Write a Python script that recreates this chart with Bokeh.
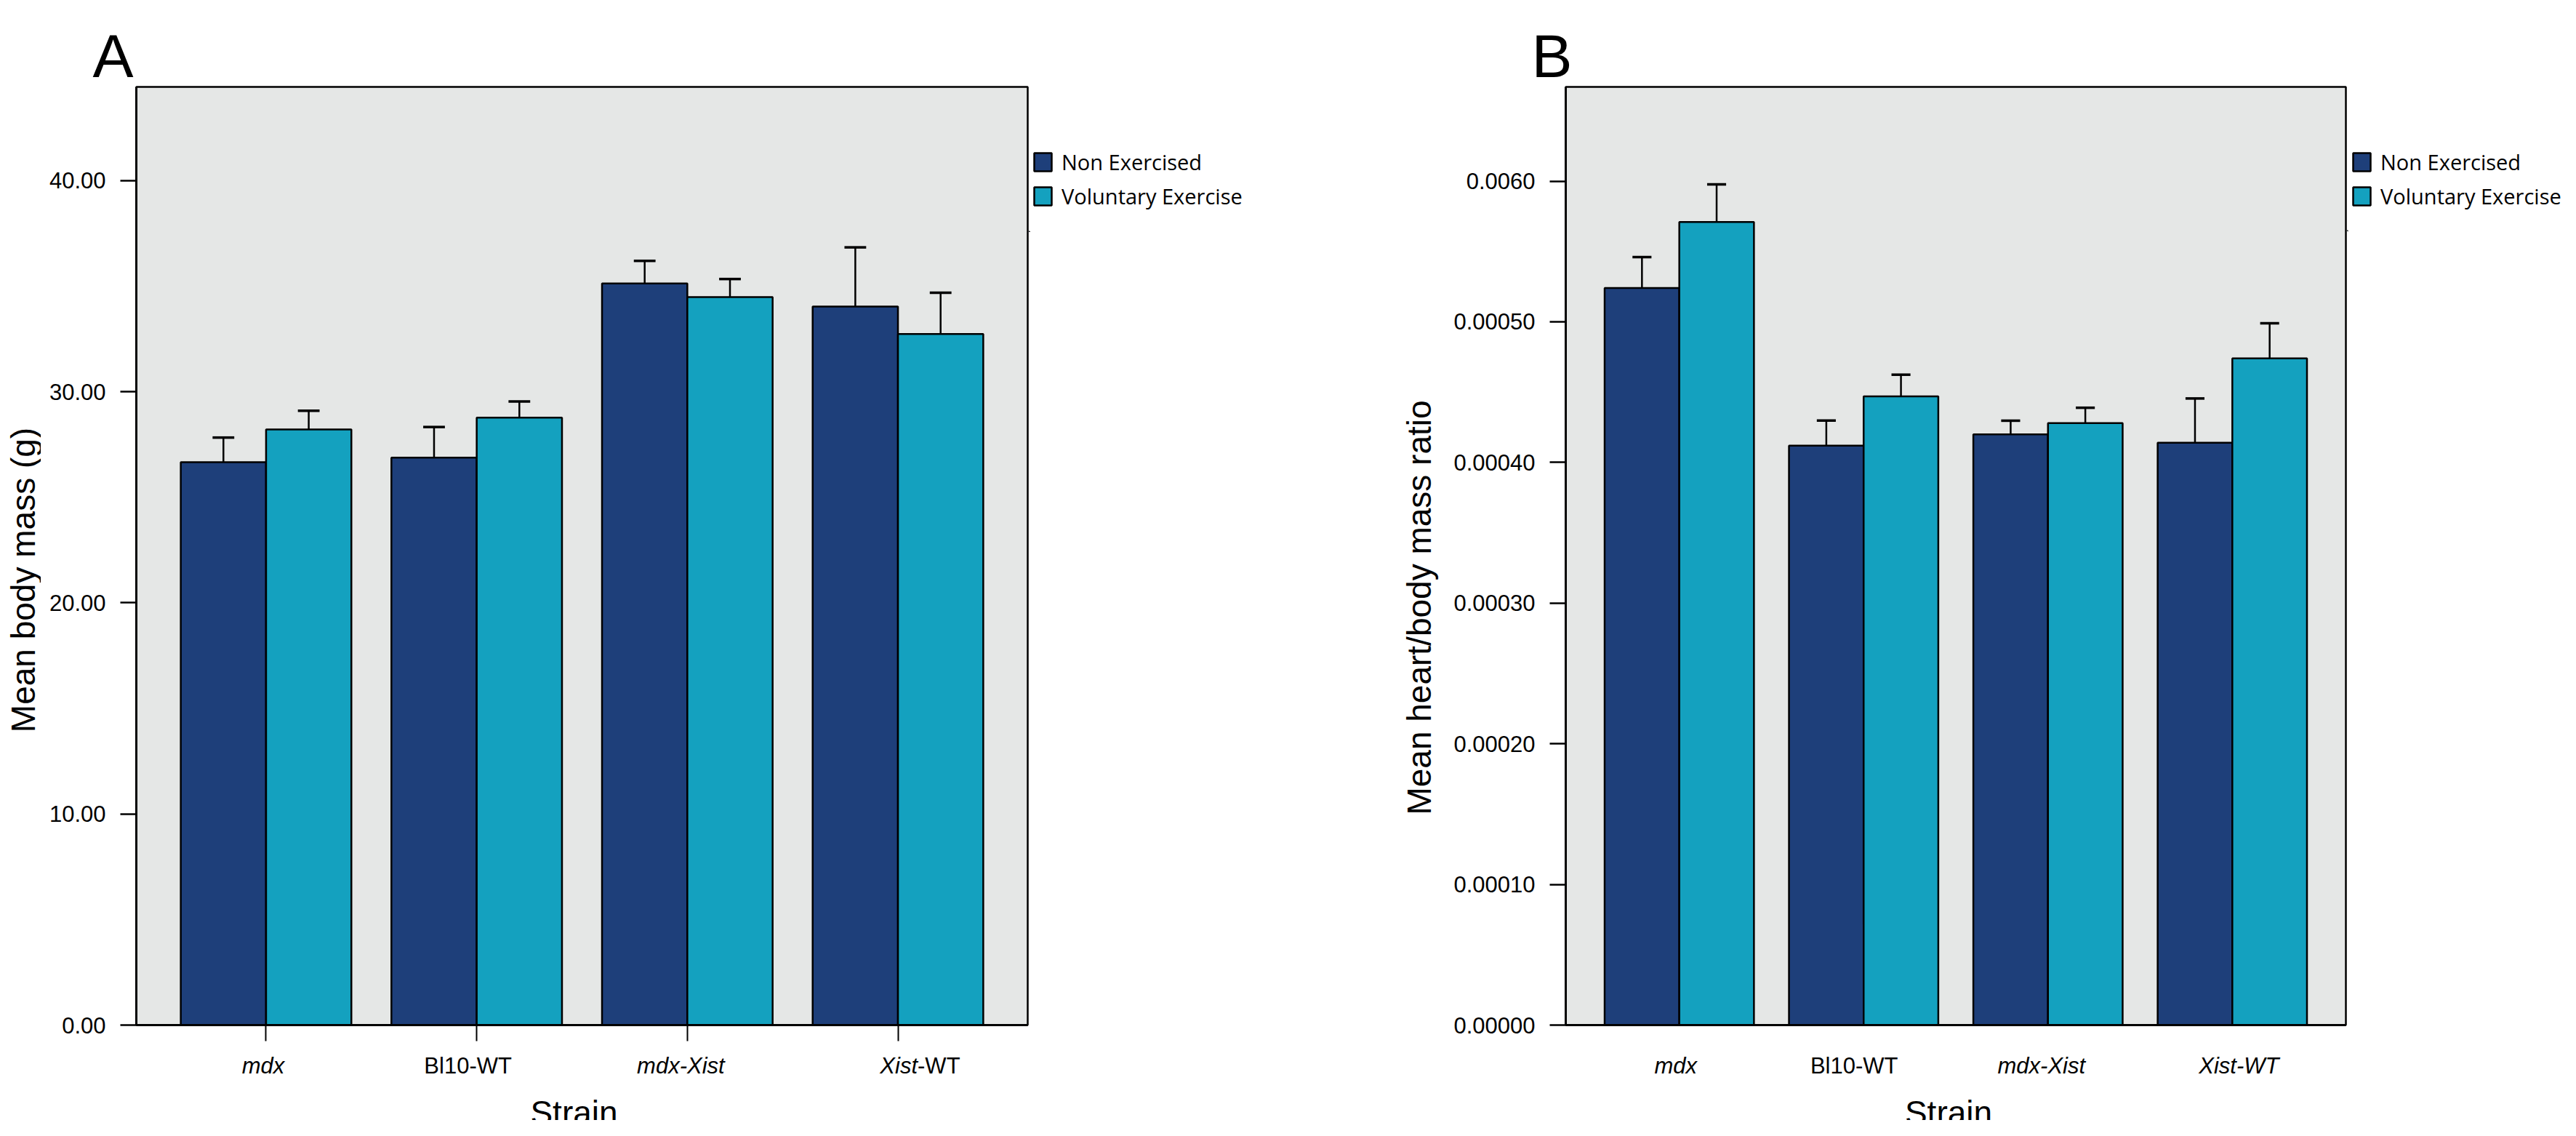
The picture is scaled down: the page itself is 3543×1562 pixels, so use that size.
import numpy as np
from bokeh.plotting import figure
from bokeh.models import (Range1d, FixedTicker, NumeralTickFormatter, CustomJSTickFormatter,
                          Legend, LegendItem, ColumnDataSource, CustomLabelingPolicy, Spacer)
from bokeh.layouts import row, column
from bokeh.embed import file_html
from bokeh.resources import INLINE
from bokeh.core.properties import value

# ---------------- data ----------------
strains = ["mdx", "Bl10-WT", "mdx-Xist", "Xist-WT"]
groups = ["Non Exercised", "Voluntary Exercise"]

mass_non = [26.66, 26.88, 35.13, 34.04]
mass_non_se = [1.17, 1.45, 1.07, 2.80]
mass_vol = [28.21, 28.77, 34.48, 32.74]
mass_vol_se = [0.89, 0.77, 0.86, 1.95]

ratio_non = [0.000524, 0.000412, 0.000420, 0.000414]
ratio_non_se = [0.0000220, 0.0000178, 0.0000097, 0.0000315]
ratio_vol = [0.000571, 0.000447, 0.000428, 0.000474]
ratio_vol_se = [0.0000267, 0.0000154, 0.0000109, 0.0000250]

mass_ticks = [0, 10, 20, 30, 40]
ratio_ticks = [0, 0.0001, 0.0002, 0.0003, 0.0004, 0.0005, 0.0006]
ratio_tick_labels = ["0.00000", "0.00010", "0.00020", "0.00030", "0.00040", "0.00050", "0.0060"]

panel_letters = ["A", "B"]

# tick-label typography (text pieces and styles) for each panel
A_tick_parts = [[("mdx", "italic")], [("Bl10-WT", "normal")], [("mdx-Xist", "italic")],
                [("Xist", "italic"), ("-WT", "normal")]]
B_tick_parts = [[("mdx", "italic")], [("Bl10-WT", "normal")], [("mdx-Xist", "italic")],
                [("Xist-WT", "italic")]]

# ---------------- style / layout ----------------
DARK = "#1E3F7A"
TEAL = "#14A1BF"
BG = "#E5E7E6"
FONT = "Liberation Sans"
LEGEND_FONT = "Open Sans"
BAR_W = 0.405
CAP_HALF = 0.0515
X_START, X_END = -0.616, 3.616
TOP_H = 116          # strip above the plots (panel letters)
FRAME_H = 1290
MAIN_TOP = 3
MAIN_BOTTOM = 26
STRIP_H = 105        # strip below each plot (strain labels + axis title)
BODY_H = MAIN_TOP + FRAME_H + MAIN_BOTTOM + STRIP_H
Y0 = 8 + TOP_H       # page y where the plot row starts
STRIP_TOP = Y0 + MAIN_TOP + FRAME_H + MAIN_BOTTOM   # page y of the label strip

NO_LABELS = CustomLabelingPolicy(code="for (const i of indices) { indices.unset(i) }\nreturn indices")


def pixel_fig(w, h, y0=0.0, y1=None, x_range=None):
    f = figure(frame_width=w, frame_height=h,
               min_border_left=0, min_border_right=0, min_border_top=0, min_border_bottom=0,
               x_range=x_range if x_range is not None else Range1d(0, w),
               y_range=Range1d(y0, y1 if y1 is not None else h),
               x_axis_location=None, y_axis_location=None,
               output_backend="svg", toolbar_location=None,
               background_fill_color="white", border_fill_color="white",
               outline_line_color=None)
    f.grid.visible = False
    return f


def make_panel(non, non_se, vol, vol_se, y_end, ticks, formatter, ylabel, ylab_w, ylab_x,
               ylab_cy, tick_parts, tick_dx, x_tick_out, strain_dx,
               frame_w, border_l, legend_w, legend_pad, legend_top):
    p = figure(frame_width=frame_w, frame_height=FRAME_H,
               min_border_left=border_l, min_border_right=2,
               min_border_top=MAIN_TOP, min_border_bottom=MAIN_BOTTOM,
               x_range=Range1d(X_START, X_END), y_range=Range1d(0, y_end),
               output_backend="svg", toolbar_location=None,
               background_fill_color=BG, border_fill_color="white",
               outline_line_color="black", outline_line_width=2.5)
    p.grid.visible = False

    idx = np.arange(len(strains))
    for means, ses, shift, color in ((non, non_se, -BAR_W / 2, DARK), (vol, vol_se, BAR_W / 2, TEAL)):
        m = np.array(means, dtype=float)
        s = np.array(ses, dtype=float)
        xc = idx + shift
        src = ColumnDataSource(dict(x=xc, top=m, up=m + s, x0=xc - CAP_HALF, x1=xc + CAP_HALF))
        p.vbar(x="x", top="top", bottom=0, width=BAR_W, source=src,
               fill_color=color, line_color="black", line_width=2.5)
        p.segment(x0="x", y0="top", x1="x", y1="up", source=src, line_color="black", line_width=2.5)
        p.segment(x0="x0", y0="up", x1="x1", y1="up", source=src, line_color="black", line_width=3.5)

    ya = p.yaxis[0]
    ya.ticker = FixedTicker(ticks=ticks)
    ya.formatter = formatter
    ya.major_tick_out = 22
    ya.major_tick_in = 0
    ya.minor_tick_out = 0
    ya.minor_tick_in = 0
    ya.major_tick_line_width = 2.5
    ya.axis_line_width = 3
    ya.major_label_standoff = 20
    ya.major_label_text_font = FONT
    ya.major_label_text_font_size = "31px"
    ya.major_label_text_color = "black"

    xa = p.xaxis[0]
    xa.ticker = FixedTicker(ticks=list(idx))
    xa.major_label_policy = NO_LABELS
    xa.major_label_text_font_size = "0px"
    xa.major_label_standoff = 0
    xa.major_tick_out = x_tick_out
    xa.major_tick_in = 0
    xa.major_tick_line_width = 2
    xa.minor_tick_out = 0
    xa.minor_tick_in = 0
    xa.axis_line_width = 3

    # strip below: strain tick labels and axis title
    st = pixel_fig(frame_w, STRIP_H, y0=-STRIP_H, y1=0, x_range=p.x_range)
    st.min_border_left = border_l
    st.min_border_right = 2
    xs, texts, styles, aligns, offs = [], [], [], [], []
    for i, parts in enumerate(tick_parts):
        if len(parts) == 1:
            xs.append(float(idx[i])); texts.append(parts[0][0]); styles.append(parts[0][1])
            aligns.append("center"); offs.append(tick_dx[i])
        else:
            for j, (t, sty) in enumerate(parts):
                xs.append(float(idx[i])); texts.append(t); styles.append(sty)
                aligns.append("right" if j == 0 else "left"); offs.append(tick_dx[i])
    lab_y = -float(1473 - STRIP_TOP)
    lab_src = ColumnDataSource(dict(x=xs, y=[lab_y] * len(xs), text=texts, style=styles,
                                    align=aligns, dx=offs))
    st.text(x="x", y="y", text="text", source=lab_src, text_font=value(FONT),
            text_font_size="31px", text_font_style="style", text_align="align",
            text_baseline="alphabetic", x_offset="dx", text_color="black")
    st.text(x=[(X_START + X_END) / 2], y=[-float(1537 - STRIP_TOP)], text=["Strain"],
            text_font=value(FONT), text_font_size="46px", text_align="center",
            text_baseline="alphabetic", x_offset=strain_dx, text_color="black")

    # y-axis title (own narrow strip on the left)
    yl = pixel_fig(ylab_w, BODY_H)
    yl.text(x=[ylab_x], y=[BODY_H - (ylab_cy - Y0)], text=[ylabel], angle=np.pi / 2,
            text_font=value(FONT), text_font_size="46px", text_align="center",
            text_baseline="alphabetic", text_color="black")

    # legend (own strip on the right)
    lf = pixel_fig(legend_w, 120)
    r0 = lf.vbar(x=[-500], top=[1], width=1, fill_color=DARK, line_color="black", line_width=2.5)
    r1 = lf.vbar(x=[-500], top=[1], width=1, fill_color=TEAL, line_color="black", line_width=2.5)
    legend = Legend(items=[LegendItem(label=groups[0], renderers=[r0]),
                           LegendItem(label=groups[1], renderers=[r1])],
                    location="top_left", orientation="vertical",
                    glyph_width=30, glyph_height=31, label_height=31, spacing=8,
                    padding=0, margin=legend_pad, label_standoff=11,
                    label_text_font=LEGEND_FONT, label_text_font_size="29px",
                    label_text_color="black", border_line_color=None,
                    background_fill_alpha=0)
    lf.add_layout(legend)

    return [yl, column(p, st, spacing=0),
            column(Spacer(width=legend_w, height=legend_top - Y0 - legend_pad), lf, spacing=0)]


A_W = dict(ylab=56, border=131, frame=1226, legend=377)
B_W = dict(ylab=195, border=166, frame=1073, legend=295)
PAGE_W = sum(A_W.values()) + sum(B_W.values()) + 4

partsA = make_panel(mass_non, mass_non_se, mass_vol, mass_vol_se, 44.44, mass_ticks,
                    NumeralTickFormatter(format="0.00"), "Mean body mass (g)",
                    A_W["ylab"], 31, 805,
                    A_tick_parts, [-4, -12, -9, 27], 22, -11,
                    A_W["frame"], A_W["border"], A_W["legend"], 4, 211)

ratio_fmt = CustomJSTickFormatter(args=dict(labels=ratio_tick_labels, step=ratio_ticks[1]),
                                  code="return labels[Math.round(tick / step)];")
partsB = make_panel(ratio_non, ratio_non_se, ratio_vol, ratio_vol_se, 0.000667, ratio_ticks,
                    ratio_fmt, "Mean heart/body mass ratio",
                    B_W["ylab"], 159, 843,
                    B_tick_parts, [-5, -13, -9, 9], 0, -10,
                    B_W["frame"], B_W["border"], B_W["legend"], 5, 211)

# top strip with the panel letters
top = pixel_fig(PAGE_W, TOP_H)
top.text(x=[135 - 8, 2114 - 8], y=[TOP_H - (84 - 8)] * 2, text=panel_letters,
         text_font=value(FONT), text_font_size="84px", text_align="left",
         text_baseline="alphabetic", text_color="black")

layout = column(top, row(*partsA, *partsB, spacing=0), spacing=0)
open("out.html", "w").write(file_html(layout, INLINE))
